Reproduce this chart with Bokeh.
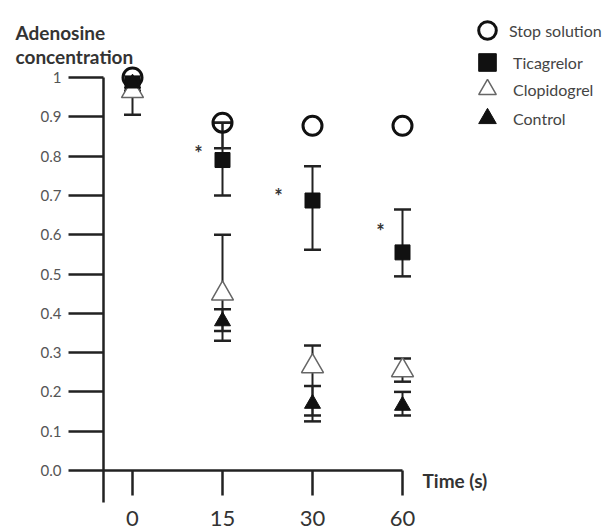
from bokeh.plotting import figure
from bokeh.models import (ColumnDataSource, Range1d, LinearAxis, FixedTicker, Whisker,
                          TeeHead, Legend, LegendItem, Label)
from bokeh.core.properties import value
from bokeh.embed import file_html
from bokeh.resources import INLINE

# ---------------- data ----------------
categories = ["0", "15", "30", "60"]

stop_solution = [1.00, 0.885, 0.877, 0.877]
stop_lower = [None, 0.82, None, None]
stop_upper = [None, 0.885, None, None]

ticagrelor = [0.985, 0.79, 0.687, 0.555]
tic_lower = [0.905, 0.70, 0.562, 0.494]
tic_upper = [0.985, 0.885, 0.774, 0.664]

clopidogrel = [0.965, 0.45, 0.265, 0.255]
clo_lower = [0.965, 0.355, 0.14, 0.226]
clo_upper = [0.965, 0.60, 0.318, 0.285]

control = [0.985, 0.38, 0.17, 0.165]
ctl_lower = [0.955, 0.33, 0.125, 0.14]
ctl_upper = [0.985, 0.41, 0.215, 0.20]

sig_categories = ["15", "30", "60"]
sig_values = [0.82, 0.712, 0.623]

y_tick_labels = ["0.0", "0.1", "0.2", "0.3", "0.4", "0.5", "0.6", "0.7", "0.8", "0.9", "1"]

# ---------------- geometry ----------------
W, H = 613, 530
FONT = "Lato"
CX, DX = 267.0, 90.0        # pixel of category centre 1.5, pixels per category
Y0, PY = 470.0, 393.0       # pixel of value 0, pixels per unit


def x_of_px(px):
    return 1.5 + (px - CX) / DX


def y_of_px(py):
    return (Y0 - py) / PY


xpos = [categories.index(c) for c in categories]

p = figure(width=W, height=H, output_backend="svg", toolbar_location=None,
           x_range=Range1d(x_of_px(0), x_of_px(W)),
           y_range=Range1d(y_of_px(H), y_of_px(0)),
           x_axis_type=None, y_axis_type=None, title=None, min_border=0)
p.outline_line_color = None
p.background_fill_color = "white"
p.border_fill_color = "white"

# ---------------- axes ----------------
yticks = [float(s) for s in y_tick_labels]
yaxis = LinearAxis(fixed_location=x_of_px(103), bounds=(y_of_px(502), 1.0),
                   ticker=FixedTicker(ticks=yticks),
                   major_label_overrides={float(s): s for s in y_tick_labels})
yaxis.major_tick_out = 35
yaxis.major_tick_in = 0
yaxis.minor_tick_out = 0
yaxis.minor_tick_in = 0
yaxis.axis_line_width = 2.5
yaxis.axis_line_color = "#222222"
yaxis.major_tick_line_width = 2.5
yaxis.major_tick_line_color = "#222222"
yaxis.major_label_text_font = FONT
yaxis.major_label_text_font_size = "15px"
yaxis.major_label_text_color = "#555555"
yaxis.major_label_standoff = 7
p.add_layout(yaxis, "left")

xaxis = LinearAxis(fixed_location=0, bounds=(x_of_px(103), len(categories) - 1),
                   ticker=FixedTicker(ticks=xpos),
                   major_label_overrides={i: c for i, c in zip(xpos, categories)})
xaxis.major_tick_out = 25
xaxis.major_tick_in = 0
xaxis.minor_tick_out = 0
xaxis.minor_tick_in = 0
xaxis.axis_line_width = 2.5
xaxis.axis_line_color = "#222222"
xaxis.major_tick_line_width = 2.5
xaxis.major_tick_line_color = "#222222"
xaxis.major_label_text_font = FONT
xaxis.major_label_text_font_size = "22px"
xaxis.major_label_text_color = "#333333"
xaxis.major_label_standoff = 15
p.add_layout(xaxis, "below")

# ---------------- series ----------------
series = [
    ("Stop solution", stop_solution, stop_lower, stop_upper,
     dict(marker="circle", size=19, fill_alpha=0, line_color="#111111", line_width=3)),
    ("Ticagrelor", ticagrelor, tic_lower, tic_upper,
     dict(marker="square", size=15, fill_color="#111111", line_color="#111111", line_width=1)),
    ("Clopidogrel", clopidogrel, clo_lower, clo_upper,
     dict(marker="triangle", size=22, fill_color="white", line_color="#666666", line_width=1.5)),
    ("Control", control, ctl_lower, ctl_upper,
     dict(marker="triangle", size=16, fill_color="#111111", line_color="#111111", line_width=1)),
]

renderers = []
for name, vals, lo, hi, style in series:
    keep = [i for i in range(len(vals)) if lo[i] is not None and hi[i] is not None]
    err_src = ColumnDataSource(dict(x=[xpos[i] for i in keep],
                                    lo=[lo[i] for i in keep], hi=[hi[i] for i in keep]))
    w = Whisker(source=err_src, base="x", lower="lo", upper="hi", dimension="height",
                line_color="#222222", line_width=2,
                upper_head=TeeHead(size=17, line_width=2.5, line_color="#222222"),
                lower_head=TeeHead(size=17, line_width=2.5, line_color="#222222"))
    p.add_layout(w)
    src = ColumnDataSource(dict(x=xpos, y=vals))
    r = p.scatter(x="x", y="y", source=src, **style)
    renderers.append((name, r))

# significance marks
sig_src = ColumnDataSource(dict(x=[categories.index(c) for c in sig_categories],
                                y=sig_values, t=["*"] * len(sig_values),
                                dx=[-24, -34, -22]))
p.text(x="x", y="y", text="t", source=sig_src, x_offset="dx", y_offset=5,
       text_font=value(FONT), text_font_style="bold", text_font_size="20px",
       text_color="#333333", text_align="center", text_baseline="middle")

# ---------------- legend (one box per entry, stacked) ----------------
GL = 44
legend_rows = [30, 62, 89, 118]      # screen centre of each entry
legend_standoff = [0, 4, 4, 4]
for (name, r), yc, so in zip(renderers, legend_rows, legend_standoff):
    lg = Legend(items=[LegendItem(label=name, renderers=[r])],
                location=(487 - GL / 2, H - (yc + GL / 2)), orientation="vertical",
                glyph_width=GL, glyph_height=GL, spacing=0, padding=0, margin=0,
                label_standoff=so, label_text_font=FONT, label_text_font_size="16px",
                label_text_color="#444444", border_line_color=None,
                background_fill_alpha=0)
    p.add_layout(lg)

# ---------------- texts ----------------
for txt, base in (("Adenosine", 32), ("concentration", 56)):
    p.add_layout(Label(x=15, y=H - base, x_units="screen", y_units="screen", text=txt,
                       text_font=FONT, text_font_style="bold", text_font_size="19px",
                       text_color="#333333", text_baseline="alphabetic"))

p.add_layout(Label(x=422, y=H - 480, x_units="screen", y_units="screen", text="Time (s)",
                   text_font=FONT, text_font_style="bold", text_font_size="19px",
                   text_color="#333333", text_baseline="middle"))

open("out.html", "w").write(file_html(p, INLINE))
